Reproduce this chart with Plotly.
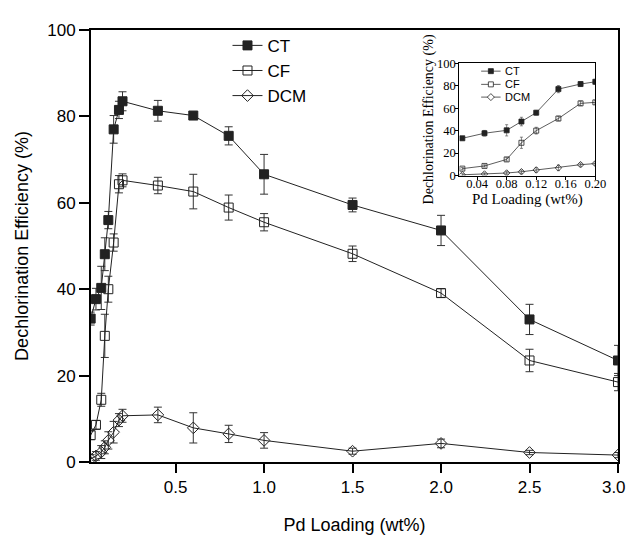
import plotly.graph_objects as go

# ---------------- data ----------------
pd_loading = [0.02, 0.05, 0.08, 0.10, 0.12, 0.15, 0.18, 0.20, 0.4, 0.6, 0.8, 1.0, 1.5, 2.0, 2.5, 3.0]
ct = [33.2, 37.7, 40.3, 48.1, 56.0, 77.0, 81.5, 83.5, 81.3, 80.2, 75.5, 66.6, 59.5, 53.6, 33.0, 23.5]
ct_err = [1.5, 2.5, 5.0, 3.8, 2.0, 3.2, 2.0, 2.2, 2.4, 0.5, 2.1, 4.6, 1.6, 3.5, 3.5, 3.5]
cf = [6.2, 8.6, 14.4, 29.2, 40.0, 50.8, 64.3, 65.2, 64.0, 62.6, 58.9, 55.5, 48.2, 39.1, 23.5, 18.5]
cf_err = [1.0, 1.0, 1.5, 5.0, 3.0, 2.0, 2.0, 1.5, 1.9, 4.0, 2.9, 2.0, 1.8, 1.0, 2.6, 2.0]
dcm = [0.7, 1.4, 2.3, 3.4, 5.0, 6.9, 9.7, 10.7, 10.9, 7.9, 6.5, 5.0, 2.5, 4.3, 2.2, 1.6]
dcm_err = [1.0, 1.0, 1.5, 1.5, 2.0, 2.5, 1.5, 1.5, 1.8, 3.5, 2.0, 1.8, 0.7, 1.0, 0.5, 0.6]

series_names = ["CT", "CF", "DCM"]
x_ticks_main = [0.5, 1.0, 1.5, 2.0, 2.5, 3.0]
y_ticks = [0, 20, 40, 60, 80, 100]
x_ticks_inset = [0.04, 0.08, 0.12, 0.16, 0.20]
inset_max = 0.20

# ---------------- styles ----------------
LINE = "#222222"
styles = {
    "CT": dict(symbol="square", size=9),
    "CF": dict(symbol="square-open", size=9),
    "DCM": dict(symbol="diamond-open", size=9),
}
values = {"CT": (ct, ct_err), "CF": (cf, cf_err), "DCM": (dcm, dcm_err)}

# plot area in pixels (for placing the inset legend decorations)
W, H = 637, 535
ML, MR, MT, MB = 83, 11, 22, 72
PW, PH = W - ML - MR, H - MT - MB


def px_x(px):
    return (px - ML) / PW


def px_y(py):
    return (H - MB - py) / PH


fig = go.Figure()

# main plot
for name in series_names:
    y, e = values[name]
    st = styles[name]
    fig.add_trace(go.Scatter(
        x=pd_loading, y=y, name=name, mode="lines+markers",
        line=dict(color=LINE, width=1),
        marker=dict(symbol=st["symbol"], size=st["size"], color=LINE,
                    line=dict(color=LINE, width=1)),
        error_y=dict(type="data", array=e, visible=True, color="#333333",
                     thickness=1, width=4),
        xaxis="x", yaxis="y",
    ))

# inset
idx = [i for i, v in enumerate(pd_loading) if v <= inset_max + 1e-9]
for name in series_names:
    y, e = values[name]
    st = styles[name]
    fig.add_trace(go.Scatter(
        x=[pd_loading[i] for i in idx], y=[y[i] for i in idx], name=name,
        mode="lines+markers", showlegend=False,
        line=dict(color="#333333", width=0.8),
        marker=dict(symbol=st["symbol"], size=5, color=LINE,
                    line=dict(color=LINE, width=0.8)),
        error_y=dict(type="data", array=[e[i] for i in idx], visible=True,
                     color="#555555", thickness=0.7, width=1.5),
        xaxis="x2", yaxis="y2",
    ))

# inset legend (compact, drawn as decorations)
shapes = []
annotations = []
leg_rows = [64, 77.5, 90.5]
for name, py in zip(series_names, leg_rows):
    shapes.append(dict(type="line", xref="paper", yref="paper",
                       x0=px_x(485), x1=px_x(505), y0=px_y(py), y1=px_y(py),
                       line=dict(color="#333333", width=0.8), layer="above"))
    if name == "DCM":
        shapes.append(dict(type="path", xref="paper", yref="paper",
                           xsizemode="pixel", ysizemode="pixel",
                           xanchor=px_x(495), yanchor=px_y(py),
                           path="M0,3.5L3.5,0L0,-3.5L-3.5,0Z",
                           fillcolor="white", line=dict(color=LINE, width=0.8),
                           layer="above"))
    else:
        shapes.append(dict(type="rect", xref="paper", yref="paper",
                           xsizemode="pixel", ysizemode="pixel",
                           xanchor=px_x(495), yanchor=px_y(py),
                           x0=-2.5, x1=2.5, y0=-2.5, y1=2.5,
                           fillcolor=LINE if name == "CT" else "white",
                           line=dict(color=LINE, width=0.8), layer="above"))
    annotations.append(dict(text=name, xref="paper", yref="paper",
                            x=px_x(507), y=px_y(py), xanchor="left", yanchor="middle",
                            showarrow=False,
                            font=dict(family="Liberation Sans, Arial, sans-serif", size=11)))

sans = "Liberation Sans, Arial, sans-serif"
serif = "Liberation Serif, Times New Roman, serif"

fig.update_layout(
    width=W, height=H,
    margin=dict(l=ML, r=MR, t=MT, b=MB),
    paper_bgcolor="white", plot_bgcolor="white",
    font=dict(family=sans, size=18, color="black"),
    showlegend=True,
    shapes=shapes,
    annotations=annotations,
    xaxis=dict(
        domain=[0, 1], range=[0.022, 3.0], tickvals=x_ticks_main,
        ticktext=[f"{v:.1f}" if v < 3 else f"{v:.1f}\u2002" for v in x_ticks_main],
        ticks="outside", ticklen=9, tickwidth=2, tickcolor="black",
        showline=True, linecolor="black", linewidth=2, mirror=True,
        showgrid=False, zeroline=False,
        tickfont=dict(family=sans, size=17),
        title=dict(text="Pd Loading (wt%)", font=dict(family=sans, size=18), standoff=22),
    ),
    yaxis=dict(
        domain=[0, 1], range=[0, 100], tickvals=y_ticks,
        ticks="outside", ticklen=10, tickwidth=2, tickcolor="black",
        showline=True, linecolor="black", linewidth=2, mirror=True,
        showgrid=False, zeroline=False,
        tickfont=dict(family=sans, size=17),
        title=dict(text="Dechlorination Efficiency (%)", font=dict(family=sans, size=18), standoff=14),
    ),
    xaxis2=dict(
        domain=[0.699, 0.957], anchor="y2", range=[0.016, 0.2],
        tickvals=x_ticks_inset, ticktext=[f"{v:.2f}" for v in x_ticks_inset],
        ticks="outside", ticklen=3, tickwidth=1, tickcolor="black",
        showline=True, linecolor="black", linewidth=1, mirror=True,
        showgrid=False, zeroline=False,
        tickfont=dict(family=serif, size=12.5), ticklabelstandoff=-7,
        title=dict(text="Pd Loading (wt%)", font=dict(family=serif, size=15), standoff=0),
    ),
    yaxis2=dict(
        domain=[0.663, 0.923], anchor="x2", range=[0, 100],
        tickvals=y_ticks,
        ticks="outside", ticklen=3, tickwidth=1, tickcolor="black",
        showline=True, linecolor="black", linewidth=1, mirror=True,
        showgrid=False, zeroline=False,
        tickfont=dict(family=serif, size=12.5), ticklabelstandoff=-3,
        title=dict(text="Dechlorination Efficiency (%)", font=dict(family=serif, size=14), standoff=0),
    ),
    legend=dict(
        x=0.259, y=1.005, xanchor="left", yanchor="top",
        bgcolor="rgba(0,0,0,0)", font=dict(family=sans, size=17),
        tracegroupgap=0, itemsizing="trace",
    ),
)

fig.write_html("out.html")
